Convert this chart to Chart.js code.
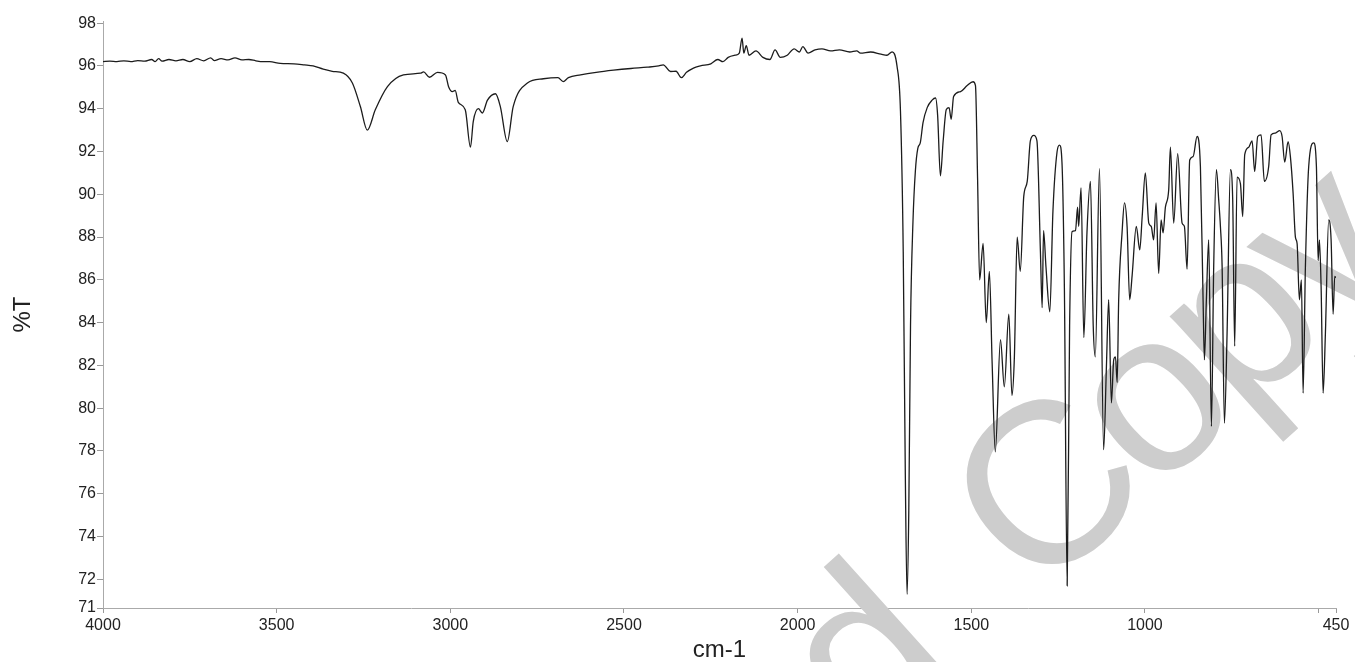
<!DOCTYPE html>
<html>
<head>
<meta charset="utf-8">
<title>IR spectrum</title>
<script src="https://cdn.jsdelivr.net/npm/chart.js@4/dist/chart.umd.min.js"></script>
<style>
  html, body { margin:0; padding:0; background:#fff; }
  #wrap { width:1355px; height:662px; position:relative; }
</style>
</head>
<body>
<div id="wrap"><canvas id="spectrum"></canvas></div>
<script>
// wavenumber (cm-1) and %T, high to low
const wavenumbers = [
  4000,3980,3960,3940,3920,3900,3880,3860,3850,3840,3830,3810,3790,3770,3750,3730,3710,3690,3680,3660,
  3640,3620,3600,3580,3560,3540,3520,3490,3450,3420,3395,3366,3340,3308,3282,3259,3239,3216,3181,3135,
  3086,3077,3060,3037,3014,3005,2994,2986,2977,2957,2942,2934,2919,2908,2893,2870,2856,2836,2819,2778,
  2732,2690,2675,2660,2625,2580,2530,2480,2433,2400,2387,2366,2350,2335,2320,2300,2280,2250,2230,2215,
  2200,2180,2168,2160,2155,2148,2140,2120,2100,2080,2065,2050,2030,2010,1995,1985,1970,1950,1930,1905,
  1880,1850,1830,1819,1790,1760,1743,1728,1714,1704,1696,1690,1685,1680,1675,1668,1661,1654,1647,1639,
  1627,1613,1603,1597,1589,1581,1572,1564,1558,1551,1531,1512,1495,1488,1482,1476,1466,1457,1448,1440,
  1431,1416,1405,1392,1383,1376,1368,1359,1349,1339,1330,1320,1311,1301,1296,1292,1285,1274,1265,1253,
  1246,1239,1232,1224,1217,1210,1200,1194,1191,1184,1176,1167,1157,1149,1143,1131,1119,1111,1104.5,1096.7,
  1090,1085,1080,1075.7,1066,1059,1051.5,1044,1037,1025,1015,1008,999,989,982,975,968,960.5,953.6,947.8,
  941.2,931.7,926.8,917.3,905.8,893.1,886.5,878.7,871.2,861.5,850,840.4,832.7,828.9,823.2,816.5,808.7,802.1,794.3,787.7,
  782.8,777.9,771.3,763.6,754,747.4,741.7,734.8,725.2,718.6,712.8,701.3,691.6,684.1,675.4,665.7,656.2,643.8,636.9,624.5,
  612.1,605.2,597.7,587.9,581.3,573.5,566.9,562,555.4,549.6,544.7,538.1,528.6,514.2,506.4,501.5,497.7,492.9,487.1,480.5,
  471,464.1,458.3,453.7,450
];
const transmittance = [
  96.2,96.22,96.2,96.24,96.2,96.25,96.22,96.3,96.2,96.34,96.22,96.3,96.24,96.3,96.2,96.34,96.24,96.38,96.25,96.34,
  96.28,96.38,96.28,96.3,96.24,96.2,96.2,96.12,96.1,96.05,96.0,95.85,95.75,95.66,95.2,94.1,93.0,93.95,95.03,95.58,
  95.66,95.72,95.47,95.7,95.58,95.03,94.8,94.85,94.3,93.95,92.2,93.4,94.0,93.8,94.4,94.7,94.1,92.46,94.1,95.2,
  95.4,95.45,95.27,95.45,95.58,95.7,95.8,95.88,95.94,96.0,96.05,95.74,95.75,95.45,95.7,95.9,96.0,96.1,96.3,96.2,
  96.4,96.5,96.6,97.3,96.6,96.95,96.5,96.7,96.4,96.3,96.75,96.4,96.5,96.8,96.65,96.9,96.6,96.75,96.8,96.7,
  96.75,96.65,96.7,96.6,96.65,96.55,96.5,96.66,96.0,93.9,87.3,76.9,71.3,75.2,83.9,88.7,91.1,92.15,92.4,93.35,
  94.05,94.4,94.5,93.7,90.86,92.5,93.96,94.05,93.5,94.57,94.8,95.08,95.26,95.08,90.77,86.0,87.7,84.0,86.4,82.1,
  77.96,83.2,81.0,84.4,80.6,82.4,88.0,86.4,89.9,90.6,92.5,92.75,92.5,87.3,84.7,88.3,86.6,84.5,89.2,92.0,
  92.3,91.5,85.6,71.7,83.85,88.25,88.3,89.4,88.5,90.3,83.3,88.2,90.6,83.85,82.4,91.2,78.06,81.95,85.07,80.25,
  82.26,82.4,81.2,85.07,88.2,89.6,88.5,85.07,86.2,88.5,87.4,88.96,91.0,88.65,88.5,87.87,89.6,86.3,88.8,88.2,
  89.4,90.2,92.2,88.65,91.9,88.65,88.5,86.5,91.6,91.76,92.7,91.3,85.07,82.26,85.07,87.87,79.15,86.63,91.15,89.74,
  88.5,86.63,79.3,83.5,91.15,89.74,82.9,90.8,90.5,88.96,91.85,92.2,92.5,91.07,92.7,92.78,90.6,91.3,92.78,92.86,
  92.98,92.7,91.5,92.46,91.76,90.05,88.0,87.7,85.07,86.0,80.7,86.6,91.3,92.4,91.3,86.9,87.87,85.7,80.7,83.5,
  88.8,87.87,84.4,86.16,86.1
];
const xTickValues = [4000,3500,3000,2500,2000,1500,1000,500,450];
const yTickValues = [70.66,72,74,76,78,80,82,84,86,88,90,92,94,96,98];

const FONT = '"Liberation Sans", Arial, sans-serif';

// grey "... Copy" stamp across the plot, under the trace
const watermark = {
  id: 'watermark',
  beforeDatasetsDraw(chart){
    const ctx = chart.ctx;
    ctx.save();
    ctx.font = '230px ' + FONT;
    ctx.fillStyle = '#cdcdcd';
    ctx.translate(1036, 600);
    ctx.rotate(-42 * Math.PI / 180);
    ctx.textBaseline = 'alphabetic';
    ctx.textAlign = 'right';
    ctx.fillText('Licensed', -100, 0);
    ctx.textAlign = 'left';
    ctx.letterSpacing = '-10px';
    ctx.fillText('Copy', 0, 0);
    ctx.restore();
  }
};

new Chart(document.getElementById('spectrum'), {
  type: 'line',
  data: {
    datasets: [{
      data: wavenumbers.map((w, i) => ({x: w, y: transmittance[i]})),
      borderColor: '#1c1c1c',
      borderWidth: 1.3,
      pointRadius: 0,
      cubicInterpolationMode: 'monotone',
      fill: false
    }]
  },
  options: {
    responsive: true, maintainAspectRatio: false, animation: false,
    layout: { padding: {top: 21, right: 19, left: 0, bottom: 0} },
    plugins: { legend: {display: false}, tooltip: {enabled: false} },
    scales: {
      x: {
        type: 'linear', reverse: true, min: 450, max: 4000,
        afterBuildTicks: s => { s.ticks = xTickValues.map(v => ({value: v})); },
        afterFit: s => { s.height = 54; },
        ticks: {
          autoSkip: false, maxRotation: 0, padding: 3, color: '#222',
          font: {family: FONT, size: 16},
          callback: v => v === 500 ? '' : String(v)
        },
        grid: { drawOnChartArea: false, tickLength: 5, color: '#999' },
        border: { color: '#aaa' },
        title: { display: true, text: 'cm-1', color: '#222',
                 font: {family: FONT, size: 24, lineHeight: 1}, padding: {top: 4, bottom: 0} }
      },
      y: {
        min: 70.66, max: 98.1,
        afterBuildTicks: s => { s.ticks = yTickValues.map(v => ({value: v})); },
        afterFit: s => { s.width = 103; },
        ticks: {
          autoSkip: false, padding: 1, color: '#222',
          font: {family: FONT, size: 16},
          callback: v => String(Math.round(v))
        },
        grid: { drawOnChartArea: false, tickLength: 6, color: '#999' },
        border: { color: '#aaa' },
        title: { display: true, text: '%T', color: '#222',
                 font: {family: FONT, size: 24, lineHeight: 1}, padding: {top: 11, bottom: 0} }
      }
    }
  },
  plugins: [watermark]
});
</script>
</body>
</html>
